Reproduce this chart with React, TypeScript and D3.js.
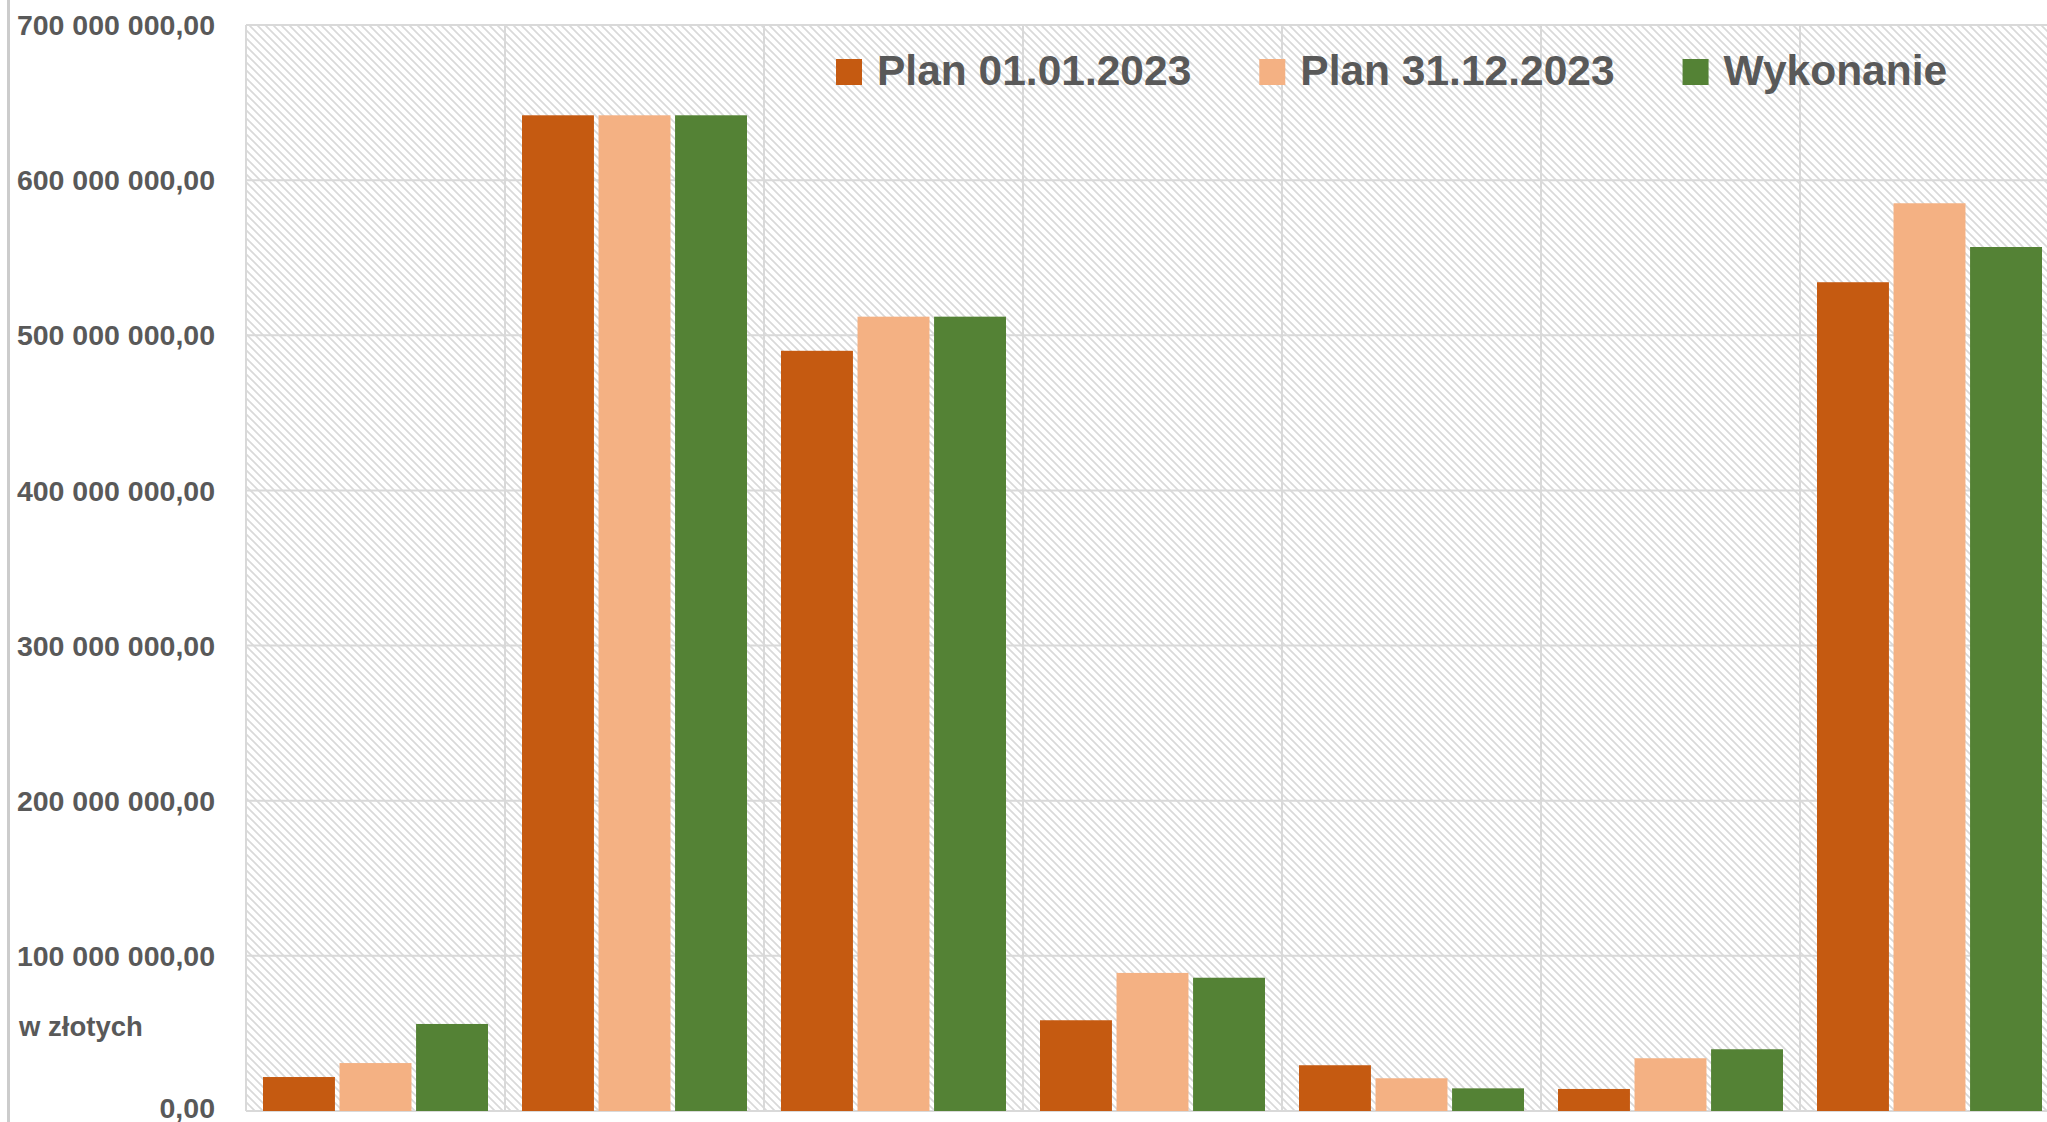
import { useEffect, useRef } from "react";
import * as d3 from "d3";

// categories (no axis labels are shown in the chart)
const categories = ["Dział 1", "Dział 2", "Dział 3", "Dział 4", "Dział 5", "Dział 6", "Dział 7"];
const seriesNames = ["Plan 01.01.2023", "Plan 31.12.2023", "Wykonanie"];
const seriesColors = ["#C55A11", "#F4B183", "#548235"];

// values in złoty
const plan0101 = [21.9e6, 641.8e6, 490.0e6, 58.5e6, 29.5e6, 14.2e6, 534.2e6];
const plan3112 = [30.9e6, 641.8e6, 512.0e6, 89.0e6, 21.1e6, 34.0e6, 585.1e6];
const wykonanie = [56.1e6, 641.8e6, 512.0e6, 85.9e6, 14.6e6, 39.8e6, 556.9e6];

const yTicks = [0, 100e6, 200e6, 300e6, 400e6, 500e6, 600e6, 700e6];

export default function App() {
  const ref = useRef<SVGSVGElement>(null);

  const width = 2047;
  const height = 1122;
  const plot = { left: 246, top: 25, bottom: 1111, bandW: 259 };

  useEffect(() => {
    const svg = d3.select(ref.current);
    svg.selectAll("*").remove();

    const values = [plan0101, plan3112, wykonanie];
    const fmt = d3
      .formatLocale({ decimal: ",", thousands: " ", grouping: [3], currency: ["", " zł"] })
      .format(",.2f");

    const x = d3
      .scaleBand()
      .domain(categories)
      .range([plot.left, plot.left + plot.bandW * categories.length]);
    const xs = d3.scaleBand().domain(seriesNames).range([17, 242]).paddingInner(0.06);
    const y = d3.scaleLinear().domain([0, 700e6]).range([plot.bottom, plot.top]);

    // hatch pattern for plot background
    const defs = svg.append("defs");
    const pat = defs
      .append("pattern")
      .attr("id", "hatch")
      .attr("patternUnits", "userSpaceOnUse")
      .attr("width", 8)
      .attr("height", 8);
    pat
      .append("path")
      .attr("d", "M-2,-2L10,10M-2,6L2,10M6,-2L10,2")
      .attr("stroke", "#d9d9d9")
      .attr("stroke-width", 1.7);

    // left border of the chart area
    svg.append("rect").attr("x", 7).attr("y", 0).attr("width", 3).attr("height", height).attr("fill", "#cccccc");

    const [x0, x1] = x.range();
    svg
      .append("rect")
      .attr("x", x0)
      .attr("y", plot.top)
      .attr("width", x1 - x0)
      .attr("height", plot.bottom - plot.top)
      .attr("fill", "url(#hatch)");

    // horizontal gridlines
    svg
      .append("g")
      .selectAll("line")
      .data(yTicks)
      .join("line")
      .attr("x1", x0)
      .attr("x2", x1)
      .attr("y1", (d) => y(d))
      .attr("y2", (d) => y(d))
      .attr("stroke", "#d9d9d9")
      .attr("stroke-width", 2);

    // vertical category separators
    svg
      .append("g")
      .selectAll("line")
      .data([...categories.map((c) => x(c)!), x1])
      .join("line")
      .attr("x1", (d) => d)
      .attr("x2", (d) => d)
      .attr("y1", plot.top)
      .attr("y2", plot.bottom)
      .attr("stroke", "#d9d9d9")
      .attr("stroke-width", 2);

    // bars
    const groups = svg
      .append("g")
      .selectAll("g")
      .data(categories)
      .join("g")
      .attr("transform", (c) => `translate(${x(c)},0)`);

    groups
      .selectAll("rect")
      .data((c) => seriesNames.map((s, k) => ({ s, k, v: values[k][categories.indexOf(c)] })))
      .join("rect")
      .attr("x", (d) => xs(d.s)!)
      .attr("width", xs.bandwidth())
      .attr("y", (d) => y(d.v))
      .attr("height", (d) => y(0) - y(d.v))
      .attr("fill", (d) => seriesColors[d.k]);

    // y-axis labels
    svg
      .append("g")
      .selectAll("text")
      .data(yTicks)
      .join("text")
      .attr("x", 215)
      .attr("y", (d) => Math.min(y(d) + 10.2, height - 4))
      .attr("text-anchor", "end")
      .attr("font-family", "'Liberation Sans', Arial, sans-serif")
      .attr("font-weight", "bold")
      .attr("font-size", 28.5)
      .attr("fill", "#595959")
      .text((d) => fmt(d));

    svg
      .append("text")
      .attr("x", 19)
      .attr("y", 1036)
      .attr("font-family", "'Liberation Sans', Arial, sans-serif")
      .attr("font-weight", "bold")
      .attr("font-size", 27.5)
      .attr("fill", "#595959")
      .text("w złotych");

    // legend
    const legend = svg.append("g");
    let lx = 836;
    seriesNames.forEach((name, i) => {
      legend.append("rect").attr("x", lx).attr("y", 59).attr("width", 26).attr("height", 26).attr("fill", seriesColors[i]);
      const t = legend
        .append("text")
        .attr("x", lx + 41)
        .attr("y", 85)
        .attr("font-family", "'Liberation Sans', Arial, sans-serif")
        .attr("font-weight", "bold")
        .attr("font-size", 42.5)
        .attr("fill", "#595959")
        .text(name);
      const w = (t.node() as SVGTextElement).getComputedTextLength();
      lx = lx + 41 + w + 68;
    });
  }, []);

  return (
    <div style={{ position: "absolute", left: 0, top: 0 }}>
      <svg ref={ref} width={width} height={height} style={{ display: "block", background: "#ffffff" }}></svg>
    </div>
  );
}
